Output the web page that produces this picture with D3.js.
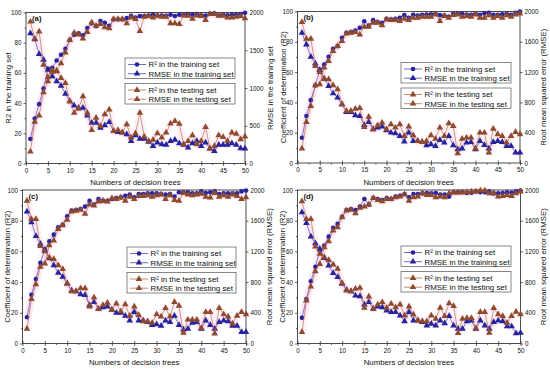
<!DOCTYPE html>
<html>
<head>
<meta charset="utf-8">
<script src="https://cdn.jsdelivr.net/npm/d3@7/dist/d3.min.js"></script>
<style>
  body { margin: 0; background: #fff; }
  text { font-family: Arial, "Liberation Sans", sans-serif; fill: #111; }
</style>
</head>
<body>
<div id="chart"></div>
<script>
// number of decision trees (x categories)
const trees = d3.range(1, 51);

// ---- panel (a)
const aTrainR2 = [16.2,29.8,39.3,49.6,62.7,63.4,68.2,72,76,81.8,85.3,86.2,84.9,89.7,92.8,91,94.3,93.2,91.2,95.4,95.4,95.4,96.3,97.8,96.7,97.6,97.6,98,98.7,98,98,97.8,98.5,97.6,98.5,98.7,98.9,98.5,98.9,98.2,98,99.1,99.3,98.2,98.5,98.2,98.5,98.5,98.9,99.8];
const aTrainRMSE = [1724,1644,1448,1372,1242,1154,1088,1030,922,824,768,736,736,636,540,540,474,504,548,430,416,408,386,298,372,328,328,286,232,276,254,246,298,312,268,246,210,268,298,232,276,198,166,246,246,246,268,246,202,198];
const aTestR2 = [7.9,27.6,31.8,47.1,54.4,60.7,61.6,66.4,73.5,81.8,86.6,85.3,82.7,87,93.4,91.2,92.3,90.1,89.5,95.6,95.6,95.6,92.8,96.7,95.6,87.7,97.1,97.6,96.7,97.8,97.1,97.1,92.8,92.8,92.3,98,97.8,95.8,98,97.6,95,98.9,98.9,97.8,97.8,96.7,96.7,97.1,97.6,96.1];
const aTestRMSE = [1878,1650,1746,1308,1140,1240,1220,1132,1066,824,672,724,890,672,442,606,496,650,714,430,442,408,518,342,400,672,356,298,312,400,342,408,530,562,526,254,298,372,254,298,482,198,232,372,350,298,408,394,320,356];

// ---- panel (b)
const bTrainR2 = [16.7,31,41.5,51.2,61.3,65,70.1,75.4,77.1,82.6,85.9,86.4,87.5,89.2,93.6,90.8,94.3,93,92.5,95.2,94.7,95.2,95.8,97.6,95.8,97.8,97.4,97.8,98,98.2,98.5,97.6,97.4,96.5,98.5,98.7,98.5,98,97.8,98.5,97.8,98.7,99.1,97.8,97.8,98.2,98.5,97.8,99.1,100];
const bTrainRMSE = [1718,1564,1402,1314,1226,1112,1016,918,862,774,672,672,628,620,502,540,444,466,480,430,400,392,356,282,400,290,290,276,232,246,224,304,268,356,232,180,190,268,276,180,290,238,190,276,290,276,224,224,136,136];
const bTestR2 = [9.5,27,37.6,51.2,51.9,62.9,67.3,73.8,77.1,80.4,85.5,85.9,86.4,84.8,89.9,89.9,92.5,92.5,90.8,94.7,94.3,94.3,93.6,95.2,94.3,95.8,95.8,96.5,96.5,96.5,98,93.6,96.9,95.8,97.6,98,96.5,96.9,96.5,98,95.8,95.8,97.4,95.8,96.9,95.8,97.4,96.5,98,98.7];
const bTestRMSE = [1860,1640,1640,1280,1200,1112,1104,1024,972,774,686,686,716,726,474,610,444,496,532,444,510,466,510,356,480,364,290,276,290,364,320,466,356,524,488,128,320,334,334,190,400,400,136,452,378,356,268,356,408,378];

// ---- panel (c)
const cTrainR2 = [17.1,31.7,42,52.5,61.2,66.6,70.9,75.7,77.4,82.9,86.6,87,87.6,89.2,93,90.5,94.1,93,93,94.1,94.8,95.2,96.3,97,95.2,97.4,97.4,97.8,97.8,97.8,97.4,97,97.4,95.7,98.5,98.5,98.5,97.8,97.8,99.1,98,98.5,99.1,97.4,97.8,97.8,97.8,97.8,99.1,99.6];
const cTrainRMSE = [1720,1580,1400,1300,1220,1110,1020,920,870,780,690,680,640,630,500,540,450,470,480,440,400,400,360,300,410,300,300,280,240,250,230,300,280,360,240,180,190,270,280,190,300,240,190,280,300,290,230,230,150,150];
const cTestR2 = [9.5,29,38.5,50,52,64,67,74.5,77,80.5,86,86.5,87,84.4,90.5,89.9,92.5,93,92.5,94.5,94,95,93,95.5,94,96,96,96.5,95.5,96.5,97,94,96.5,93.5,93,98,97,96.5,97,97.5,95.5,95,98,95.5,96.5,95.5,97,96,94.1,95.2];
const cTestRMSE = [1860,1620,1620,1270,1200,1120,1100,1020,970,780,680,680,720,720,480,600,450,500,530,440,520,420,510,360,480,370,290,290,270,380,350,460,350,540,490,140,310,310,310,200,410,410,130,460,380,350,260,360,410,380];

// ---- panel (d)
const dTrainR2 = [16.7,29,40.6,50,60.5,63.8,69.6,75.3,77.9,82.6,87,87.6,87,89.2,94.1,90.5,94.8,94.1,93.5,94.8,94.1,95.7,96.3,97.4,95.2,97.4,97.4,97.8,98,97.8,98,97,97,95.7,98.5,98.5,98.7,98,98.2,99.1,98.5,98.5,99.1,97.8,97.8,98,98.5,98.2,99.1,99.6];
const dTrainRMSE = [1710,1570,1392,1306,1232,1114,1016,916,864,776,698,680,624,616,508,538,452,482,472,430,408,408,364,290,408,300,300,278,234,256,234,300,264,356,234,190,190,290,300,190,300,234,190,278,300,290,222,222,134,138];
const dTestR2 = [7.4,28,37,47,51.8,62.7,66.6,73.5,75.7,82.2,86.6,87,84.8,88.3,89.2,90.5,94.8,93.5,92.6,94.1,94.1,95.2,95.7,97,93,95.2,95.7,97.8,96.7,96.7,95.2,95.7,95.2,97.8,98.3,98.3,98.3,98.7,98.9,98.9,99.6,99.6,97.8,97.8,95.7,96.1,96.7,96.1,97.8,98.9];
const dTestRMSE = [1852,1622,1622,1262,1168,1124,1088,1028,972,786,690,680,712,724,464,612,452,508,538,464,516,472,508,364,482,378,300,290,290,364,320,466,356,524,488,136,320,330,330,196,408,408,140,460,380,356,270,356,412,380];

const rmseTicksA = [0, 500, 1000, 1500, 2000];
const rmseTicksB = [0, 400, 800, 1200, 1600, 2000];
const r2Ticks = [0, 20, 40, 60, 80, 100];
const xTicks = d3.range(0, 51, 5);

const legendTrain = ["R² in the training set", "RMSE in the training set"];
const legendTest = ["R² in the testing set", "RMSE in the testing set"];

const panels = [
  { tag: "(a)", trainR2: aTrainR2, trainRMSE: aTrainRMSE, testR2: aTestR2, testRMSE: aTestRMSE,
    left: 26, right: 245, top: 12.5, bottom: 163.5, rTicks: rmseTicksA,
    yTitle: "R2 in the training set", y2Title: "RMSE in the training set",
    yTitleX: 8.5, y2TitleX: 271, legX: 125, legY: 58, legW: 110 },
  { tag: "(b)", trainR2: bTrainR2, trainRMSE: bTrainRMSE, testR2: bTestR2, testRMSE: bTestRMSE,
    left: 297.5, right: 520, top: 11.5, bottom: 163, rTicks: rmseTicksB,
    yTitle: "Coefficient of determination (R2)", y2Title: "Root mean squared error (RMSE)",
    yTitleX: 284, y2TitleX: 544, legX: 401, legY: 62.5, legW: 110 },
  { tag: "(c)", trainR2: cTrainR2, trainRMSE: cTrainRMSE, testR2: cTestR2, testRMSE: cTestRMSE,
    left: 22.5, right: 246, top: 190, bottom: 343.5, rTicks: rmseTicksB,
    yTitle: "Coefficient of determination (R2)", y2Title: "Root mean squared error (RMSE)",
    yTitleX: 7.5, y2TitleX: 269.5, legX: 127, legY: 247, legW: 109 },
  { tag: "(d)", trainR2: dTrainR2, trainRMSE: dTrainRMSE, testR2: dTestR2, testRMSE: dTestRMSE,
    left: 297.5, right: 520.5, top: 190, bottom: 343.5, rTicks: rmseTicksB,
    yTitle: "Coefficient of determination (R2)", y2Title: "Root mean squared error (RMSE)",
    yTitleX: 283, y2TitleX: 544, legX: 401, legY: 246, legW: 110 }
];

const trainColor = "#24249e";
const trainLine = "#4848c4";
const testColor = "#8e4a2c";
const testLine = "#b86d52";
const tri = d3.symbol().type(d3.symbolTriangle).size(19);
const plain = d3.format("d");

const svg = d3.select("#chart").append("svg")
  .attr("width", 550).attr("height", 369);

panels.forEach(p => drawPanel(p));

function drawPanel(p) {
  const g = svg.append("g");
  const x = d3.scaleLinear().domain([0, 50]).range([p.left, p.right]);
  const y = d3.scaleLinear().domain([0, 100]).range([p.bottom, p.top]);
  const y2 = d3.scaleLinear().domain([0, 2000]).range([p.bottom, p.top]);

  // faint pink halo behind the curves
  const halo = d3.line().x((d, i) => x(trees[i]));
  [[p.trainR2, y], [p.testR2, y], [p.trainRMSE, y2], [p.testRMSE, y2]].forEach(([vals, sc]) => {
    g.append("path")
      .attr("d", halo.y(d => sc(d))(vals))
      .attr("fill", "none").attr("stroke", "#ff9fd0")
      .attr("stroke-width", 7).attr("stroke-opacity", 0.14)
      .attr("stroke-linejoin", "round");
  });

  // frame
  g.append("rect")
    .attr("x", p.left).attr("y", p.top)
    .attr("width", p.right - p.left).attr("height", p.bottom - p.top)
    .attr("fill", "none").attr("stroke", "#222").attr("stroke-width", 0.8);

  // axes
  const axStyle = sel => {
    sel.select(".domain").remove();
    sel.selectAll(".tick line").attr("stroke", "#222").attr("stroke-width", 0.7);
    sel.selectAll(".tick text").attr("font-size", "6.3px").attr("fill", "#222");
  };
  g.append("g").attr("transform", `translate(0,${p.bottom})`)
    .call(d3.axisBottom(x).tickValues(xTicks).tickSize(2.5).tickPadding(2.5).tickFormat(plain)).call(axStyle);
  g.append("g").attr("transform", `translate(0,${p.bottom})`)
    .call(d3.axisBottom(x).tickValues(xTicks).tickSize(-2.5).tickFormat("")).call(axStyle);
  g.append("g").attr("transform", `translate(0,${p.bottom})`)
    .call(d3.axisBottom(x).tickValues(d3.range(2.5, 50, 5)).tickSize(1.5).tickFormat("")).call(axStyle);
  g.append("g").attr("transform", `translate(${p.left},0)`)
    .call(d3.axisLeft(y).tickValues(r2Ticks).tickSize(2.5).tickPadding(2).tickFormat(plain)).call(axStyle);
  g.append("g").attr("transform", `translate(${p.left},0)`)
    .call(d3.axisLeft(y).tickValues(d3.range(10, 100, 20)).tickSize(1.5).tickFormat("")).call(axStyle);
  g.append("g").attr("transform", `translate(${p.right},0)`)
    .call(d3.axisRight(y2).tickValues(p.rTicks).tickSize(2.5).tickPadding(2).tickFormat(plain)).call(axStyle);

  // axis titles
  g.append("text")
    .attr("x", (p.left + p.right) / 2).attr("y", p.bottom + 21.5)
    .attr("text-anchor", "middle").attr("font-size", "7.8px")
    .text("Numbers of decision trees");
  g.append("text")
    .attr("transform", `translate(${p.yTitleX},${(p.top + p.bottom) / 2}) rotate(-90)`)
    .attr("text-anchor", "middle").attr("dominant-baseline", "middle")
    .attr("font-size", "7.8px").text(p.yTitle);
  g.append("text")
    .attr("transform", `translate(${p.y2TitleX},${(p.top + p.bottom) / 2}) rotate(-90)`)
    .attr("text-anchor", "middle").attr("dominant-baseline", "middle")
    .attr("font-size", "7.8px").text(p.y2Title);

  // panel tag
  g.append("text")
    .attr("x", p.left + 6).attr("y", p.top + 8.5)
    .attr("font-size", "7.8px").attr("font-weight", "bold").text(p.tag);

  // series
  drawSeries(g, x, y, p.trainR2, trainColor, trainLine, "circle");
  drawSeries(g, x, y2, p.trainRMSE, trainColor, trainLine, "tri");
  drawSeries(g, x, y, p.testR2, testColor, testLine, "tri");
  drawSeries(g, x, y2, p.testRMSE, testColor, testLine, "tri");

  // legends
  drawLegend(g, p.legX, p.legY, p.legW, legendTrain, trainColor, trainLine, ["circle", "tri"]);
  drawLegend(g, p.legX, p.legY + 25.5, p.legW, legendTest, testColor, testLine, ["tri", "tri"]);
}

function drawSeries(g, x, y, vals, color, lineColor, shape) {
  const line = d3.line().x((d, i) => x(trees[i])).y(d => y(d));
  g.append("path").attr("d", line(vals))
    .attr("fill", "none").attr("stroke", lineColor).attr("stroke-width", 0.7);
  const pts = g.append("g").selectAll("g").data(vals).join("g")
    .attr("transform", (d, i) => `translate(${x(trees[i])},${y(d)})`);
  if (shape === "circle") {
    pts.append("circle").attr("r", 2.3).attr("fill", color);
  } else {
    pts.append("path").attr("d", tri).attr("fill", color);
  }
}

function drawLegend(g, lx, ly, w, labels, color, lineColor, shapes) {
  g.append("rect").attr("x", lx).attr("y", ly).attr("width", w).attr("height", 20.5)
    .attr("fill", "#fff").attr("stroke", "#555").attr("stroke-width", 0.7);
  labels.forEach((lab, i) => {
    const cy = ly + 6.5 + i * 9.2;
    g.append("line").attr("x1", lx + 3).attr("x2", lx + 21).attr("y1", cy).attr("y2", cy)
      .attr("stroke", lineColor).attr("stroke-width", 0.8);
    if (shapes[i] === "circle") {
      g.append("circle").attr("cx", lx + 12).attr("cy", cy).attr("r", 2.3).attr("fill", color);
    } else {
      g.append("path").attr("d", tri).attr("transform", `translate(${lx + 12},${cy})`).attr("fill", color);
    }
    g.append("text").attr("x", lx + 23.5).attr("y", cy + 2.8)
      .attr("font-size", "7.9px").text(lab);
  });
}
</script>
</body>
</html>
